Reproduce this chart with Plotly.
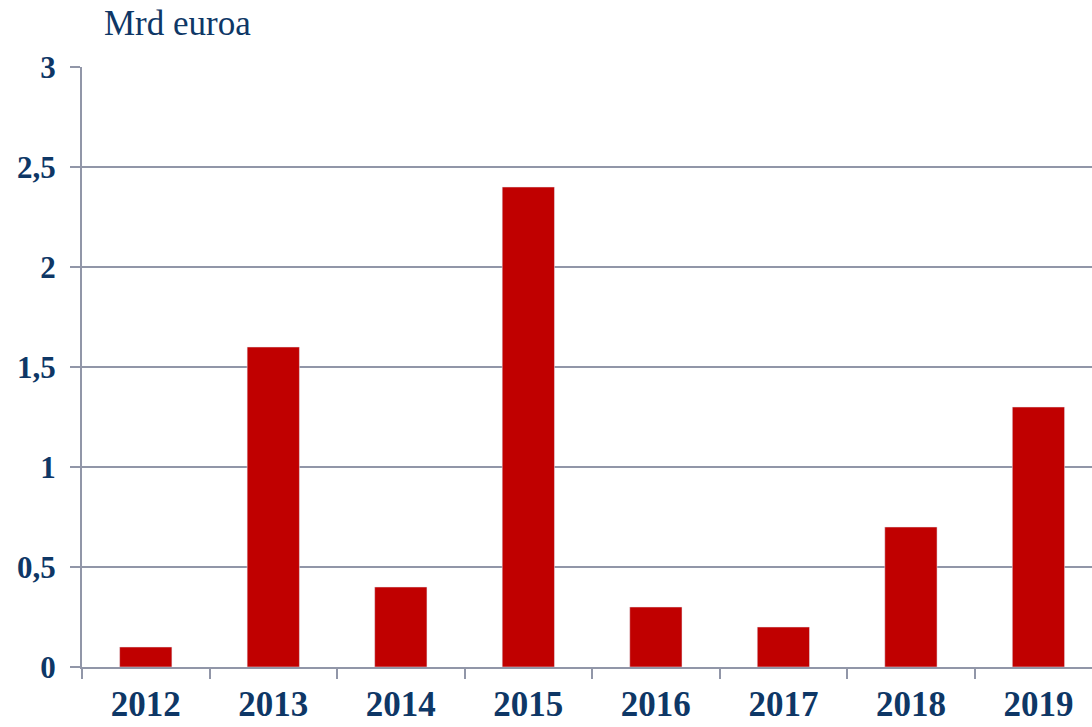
import plotly.graph_objects as go

years = ["2012", "2013", "2014", "2015", "2016", "2017", "2018", "2019"]
values = [0.1, 1.6, 0.4, 2.4, 0.3, 0.2, 0.7, 1.3]
y_ticks = [0, 0.5, 1, 1.5, 2, 2.5, 3]
y_tick_text = ["0", "0,5", "1", "1,5", "2", "2,5", "3"]

TEXT = "#0E3766"
GRID = "#9196A8"
BAR = "#C00000"
SERIF = "Liberation Serif, Times New Roman, serif"

fig = go.Figure()
fig.add_trace(go.Bar(
    x=years,
    y=values,
    marker_color=BAR,
    width=0.41,
))

fig.update_layout(
    width=1092,
    height=727,
    plot_bgcolor="white",
    paper_bgcolor="white",
    showlegend=False,
    margin=dict(l=82, r=0, t=67, b=60),
    font=dict(family=SERIF, color=TEXT),
    xaxis=dict(
        range=[-0.5, 7.42],
        automargin=False,
        showline=True, linecolor=GRID, linewidth=2,
        ticks="outside", tickson="boundaries", ticklen=10, tickwidth=2, tickcolor=GRID,
        tickfont=dict(size=35, family=SERIF, color=TEXT, weight="bold"),
        ticklabelstandoff=5,
        showgrid=False,
    ),
    yaxis=dict(
        range=[0, 3],
        automargin=False,
        tickvals=y_ticks, ticktext=y_tick_text,
        showline=True, linecolor=GRID, linewidth=2,
        ticks="outside", ticklen=10, tickwidth=2, tickcolor=GRID,
        ticklabelstandoff=8,
        showgrid=True, gridcolor=GRID, gridwidth=2,
        zeroline=False,
        tickfont=dict(size=31, family=SERIF, color=TEXT, weight="bold"),
    ),
    annotations=[dict(
        text="Mrd euroa",
        xref="paper", yref="paper",
        x=(102 - 82) / 1010, y=1 + (67 - 23) / 600,
        xanchor="left", yanchor="middle",
        showarrow=False,
        font=dict(size=35, family=SERIF, color=TEXT),
    )],
)

fig.write_html(
    "out.html",
    config={"displayModeBar": False},
    post_script="document.body.style.margin='0';document.body.style.overflow='hidden';",
)
